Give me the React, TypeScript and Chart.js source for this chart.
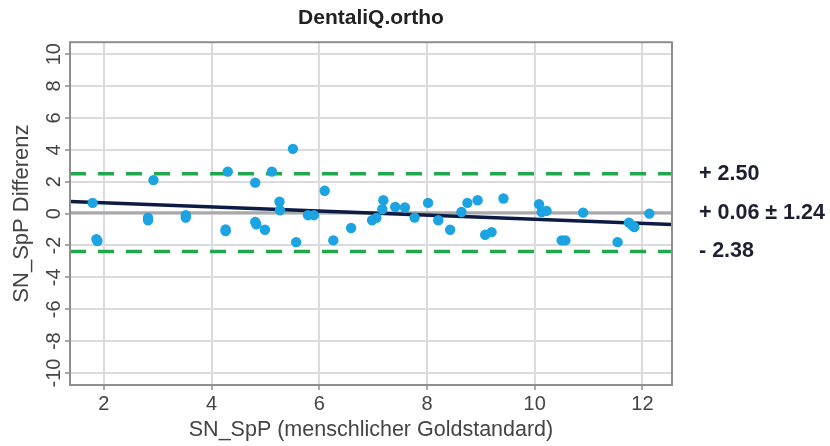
import React, { useEffect, useRef } from "react";
import { Chart, registerables } from "chart.js";

Chart.register(...registerables);

const TITLE = "DentaliQ.ortho";
const X_LABEL = "SN_SpP (menschlicher Goldstandard)";
const Y_LABEL = "SN_SpP Differenz";

// Gold-standard value (x) and the difference to the automatic value (y)
const GOLD = [
  1.79, 1.86, 1.88, 2.82, 2.82, 2.92, 3.52, 3.52, 4.26, 4.26, 4.3, 4.81, 4.81,
  4.83, 4.99, 5.12, 5.26, 5.27, 5.51, 5.57, 5.79, 5.9, 6.1, 6.26, 6.59, 6.98,
  7.06, 7.17, 7.19, 7.41, 7.59, 7.77, 8.02, 8.21, 8.43, 8.64, 8.75, 8.94, 9.08,
  9.2, 9.42, 10.08, 10.13, 10.22, 10.5, 10.57, 10.9, 11.54, 11.75, 11.81, 11.85,
  12.13,
];
const DIFF = [
  0.67, -1.6, -1.72, -0.25, -0.42, 2.1, -0.1, -0.25, -1.0, -1.1, 2.63, 1.94,
  -0.53, -0.67, -1.01, 2.63, 0.74, 0.21, 4.06, -1.79, -0.1, -0.1, 1.43, -1.68,
  -0.9, -0.42, -0.27, 0.27, 0.84, 0.42, 0.38, -0.25, 0.67, -0.42, -1.01, 0.1,
  0.67, 0.84, -1.33, -1.16, 0.95, 0.59, 0.1, 0.17, -1.68, -1.68, 0.06, -1.79,
  -0.57, -0.74, -0.84, 0.0,
];

// Bland-Altman statistics
const MEAN_DIFF = 0.06;
const SD_DIFF = 1.24;
const UPPER_LOA = 2.5;
const LOWER_LOA = -2.38;

// Linear trend of the difference over the gold standard
const TREND_INTERCEPT = 0.93;
const TREND_SLOPE = -0.128;

const X_MIN = 1.37;
const X_MAX = 12.55;
const Y_MIN = -10.75;
const Y_MAX = 10.75;
const TICK_STEP = 2;

const FONT = '"Liberation Sans", Arial, sans-serif';
const GRID = "#dadae0";
const FRAME = "#8e8e8e";
const TEXT = "#444444";

const hLine = (value: number) => [
  { x: X_MIN, y: value },
  { x: X_MAX, y: value },
];

// Rotated y tick labels and the outer frame of the plot area
const axisDecor = {
  id: "axisDecor",
  afterDraw(chart: Chart) {
    const { ctx, chartArea } = chart;
    const y = chart.scales.y;
    ctx.save();
    ctx.strokeStyle = FRAME;
    ctx.lineWidth = 2;
    ctx.strokeRect(
      chartArea.left,
      chartArea.top,
      chartArea.right - chartArea.left,
      chartArea.bottom - chartArea.top
    );
    ctx.font = `20px ${FONT}`;
    ctx.fillStyle = TEXT;
    ctx.textAlign = "center";
    ctx.textBaseline = "middle";
    y.ticks.forEach((t) => {
      const py = y.getPixelForValue(t.value);
      ctx.save();
      ctx.translate(chartArea.left - 16, py);
      ctx.rotate(-Math.PI / 2);
      ctx.fillText(String(t.value), 0, 0);
      ctx.restore();
    });
    ctx.restore();
  },
};

// Values of the mean difference and the limits of agreement on the right
const limitLabels = {
  id: "limitLabels",
  afterDraw(chart: Chart) {
    const { ctx, chartArea } = chart;
    const y = chart.scales.y;
    const x = chartArea.right + 27;
    ctx.save();
    ctx.font = `bold 21.5px ${FONT}`;
    ctx.fillStyle = "#1d2030";
    ctx.textAlign = "left";
    ctx.textBaseline = "middle";
    ctx.fillText(`+ ${UPPER_LOA.toFixed(2)}`, x, y.getPixelForValue(UPPER_LOA));
    ctx.fillText(
      `+ ${MEAN_DIFF.toFixed(2)} ± ${SD_DIFF.toFixed(2)}`,
      x,
      y.getPixelForValue(MEAN_DIFF)
    );
    ctx.fillText(
      `- ${Math.abs(LOWER_LOA).toFixed(2)}`,
      x,
      y.getPixelForValue(LOWER_LOA)
    );
    ctx.restore();
  },
};

export default function App() {
  const canvasRef = useRef<HTMLCanvasElement | null>(null);

  useEffect(() => {
    document.body.style.margin = "0";
    const canvas = canvasRef.current;
    if (!canvas) return;

    const points = GOLD.map((g, i) => ({ x: g, y: DIFF[i] }));

    const chart = new Chart(canvas, {
      type: "scatter",
      data: {
        datasets: [
          {
            label: "Differenz",
            data: points,
            backgroundColor: "#1ba3e2",
            borderColor: "#1ba3e2",
            pointRadius: 5.2,
            pointBorderWidth: 0,
          },
          {
            type: "line",
            label: "Trend",
            data: [
              { x: X_MIN, y: TREND_INTERCEPT + TREND_SLOPE * X_MIN },
              { x: X_MAX, y: TREND_INTERCEPT + TREND_SLOPE * X_MAX },
            ],
            borderColor: "#0c1a44",
            borderWidth: 3.5,
            pointRadius: 0,
          },
          {
            type: "line",
            label: "Obere Grenze",
            data: hLine(UPPER_LOA),
            borderColor: "#22a84c",
            borderWidth: 3.5,
            borderDash: [16, 12],
            pointRadius: 0,
          },
          {
            type: "line",
            label: "Untere Grenze",
            data: hLine(LOWER_LOA),
            borderColor: "#22a84c",
            borderWidth: 3.5,
            borderDash: [16, 12],
            pointRadius: 0,
          },
          {
            type: "line",
            label: "Mittelwert",
            data: hLine(MEAN_DIFF),
            borderColor: "#a9a9a9",
            borderWidth: 3,
            pointRadius: 0,
          },
        ],
      },
      options: {
        animation: false,
        responsive: false,
        devicePixelRatio: 1,
        layout: { padding: { left: 0, right: 158, top: 0, bottom: 0 } },
        plugins: {
          legend: { display: false },
          tooltip: { enabled: false },
          title: {
            display: true,
            text: TITLE,
            fullSize: false,
            color: "#222",
            font: { family: FONT, size: 21, weight: "bold" },
            padding: { top: 6, bottom: 11 },
          },
        },
        scales: {
          x: {
            type: "linear",
            min: X_MIN,
            max: X_MAX,
            afterFit: (s: any) => {
              s.height = 61;
            },
            border: { display: false },
            grid: {
              color: GRID,
              lineWidth: 2,
              drawTicks: true,
              tickLength: 5,
              tickColor: FRAME,
              tickWidth: 1.5,
            },
            ticks: {
              stepSize: TICK_STEP,
              includeBounds: false,
              color: TEXT,
              padding: 2,
              font: { family: FONT, size: 20 },
              maxRotation: 0,
            },
            title: {
              display: true,
              text: X_LABEL,
              color: TEXT,
              font: { family: FONT, size: 21.5 },
              padding: { top: 0, bottom: 3 },
            },
          },
          y: {
            type: "linear",
            min: Y_MIN,
            max: Y_MAX,
            afterFit: (s: any) => {
              s.width = 70;
            },
            border: { display: false },
            grid: {
              color: GRID,
              lineWidth: 2,
              drawTicks: true,
              tickLength: 5,
              tickColor: FRAME,
              tickWidth: 1.5,
            },
            ticks: {
              stepSize: TICK_STEP,
              includeBounds: false,
              display: false,
            },
            title: {
              display: true,
              text: Y_LABEL,
              color: TEXT,
              font: { family: FONT, size: 22 },
              padding: { top: 9, bottom: 0 },
            },
          },
        },
      },
      plugins: [axisDecor, limitLabels],
    });

    return () => chart.destroy();
  }, []);

  return (
    <div style={{ width: 830, height: 446 }}>
      <canvas ref={canvasRef} width={830} height={446} style={{ display: "block" }} />
    </div>
  );
}
